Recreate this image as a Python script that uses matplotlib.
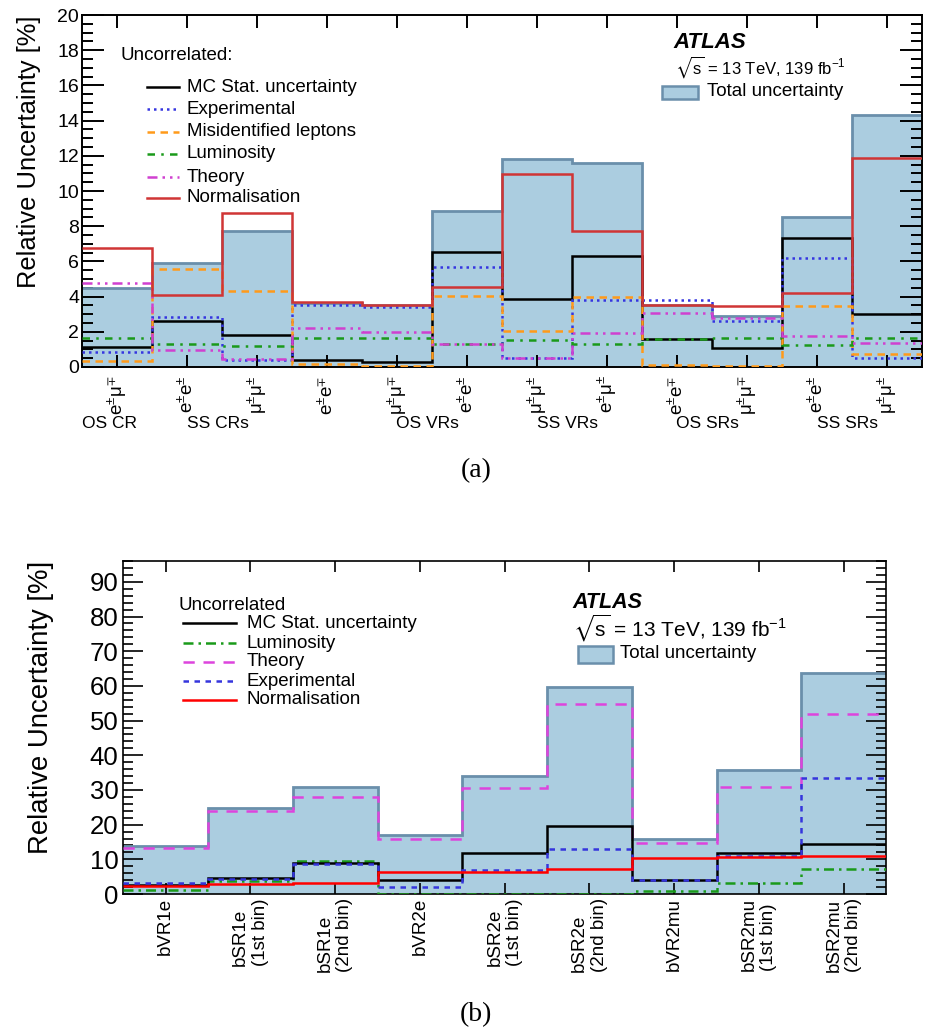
import numpy as np
import matplotlib
matplotlib.use("Agg")
import matplotlib.pyplot as plt
from matplotlib.lines import Line2D
from matplotlib.patches import Rectangle
from matplotlib.ticker import MultipleLocator

plt.rcParams['font.family'] = ['Liberation Sans', 'DejaVu Sans']
plt.rcParams['mathtext.fontset'] = 'custom'
plt.rcParams['mathtext.rm'] = 'Liberation Sans'
plt.rcParams['mathtext.it'] = 'Liberation Sans:italic'
plt.rcParams['mathtext.bf'] = 'Liberation Sans:bold'
plt.rcParams['mathtext.fallback'] = 'stixsans'

# ---------------- data: panel (a) ----------------
a_bins = [r'$\mathregular{e^{\pm}\mu^{\mp}}$', r'$\mathregular{e^{\pm}e^{\pm}}$',
          r'$\mathregular{\mu^{\pm}\mu^{\pm}}$', r'$\mathregular{e^{\pm}e^{\mp}}$',
          r'$\mathregular{\mu^{\pm}\mu^{\mp}}$', r'$\mathregular{e^{\pm}e^{\pm}}$',
          r'$\mathregular{\mu^{\pm}\mu^{\pm}}$', r'$\mathregular{e^{\pm}\mu^{\pm}}$',
          r'$\mathregular{e^{\pm}e^{\mp}}$', r'$\mathregular{\mu^{\pm}\mu^{\mp}}$',
          r'$\mathregular{e^{\pm}e^{\pm}}$', r'$\mathregular{\mu^{\pm}\mu^{\pm}}$']
a_groups = ['OS CR', 'SS CRs', 'OS VRs', 'SS VRs', 'OS SRs', 'SS SRs']
a_total = [4.5, 5.9, 7.7, 3.65, 3.5, 8.85, 11.8, 11.6, 3.5, 2.9, 8.5, 14.3]
a_mcstat = [1.14, 2.62, 1.84, 0.38, 0.28, 6.55, 3.85, 6.32, 1.57, 1.1, 7.34, 3.0]
a_exp = [0.85, 2.85, 0.38, 3.51, 3.42, 5.69, 0.53, 3.8, 3.8, 2.6, 6.22, 0.53]
a_misid = [0.32, 5.56, 4.31, 0.19, 0.06, 4.06, 2.03, 3.98, 0.11, 0.06, 3.45, 0.72]
a_lumi = [1.63, 1.33, 1.2, 1.65, 1.67, 1.29, 1.52, 1.33, 1.61, 1.65, 1.27, 1.65]
a_theory = [4.76, 0.95, 0.47, 2.22, 2.01, 1.29, 0.53, 1.95, 3.04, 2.81, 1.76, 1.37]
a_norm = [6.74, 4.08, 8.73, 3.68, 3.55, 4.52, 10.95, 7.72, 3.51, 3.47, 4.21, 11.9]

# ---------------- data: panel (b) ----------------
b_bins = ['bVR1e', 'bSR1e\n(1st bin)', 'bSR1e\n(2nd bin)', 'bVR2e', 'bSR2e\n(1st bin)',
          'bSR2e\n(2nd bin)', 'bVR2mu', 'bSR2mu\n(1st bin)', 'bSR2mu\n(2nd bin)']
b_total = [13.9, 24.9, 30.8, 17.1, 34.0, 59.7, 15.85, 35.8, 63.7]
b_theory = [13.4, 23.9, 27.9, 15.85, 30.7, 54.7, 14.6, 30.8, 51.9]
b_mcstat = [2.5, 4.7, 8.8, 4.0, 11.8, 19.6, 4.1, 11.7, 14.5]
b_exp = [3.3, 4.4, 8.7, 2.1, 7.0, 12.9, 4.1, 11.0, 33.3]
b_lumi = [1.15, 3.7, 9.5, 0.1, 0.1, 0.1, 0.9, 3.3, 7.1]
b_norm = [2.4, 2.8, 3.3, 6.4, 6.2, 7.2, 10.3, 10.8, 11.0]

FILL = '#abcde0'
EDGE = '#6a8fab'

W, H = 928, 1033
fig = plt.figure(figsize=(W / 100, H / 100), dpi=100)


def px(x, y):
    return x / W, 1 - y / H


def axes_px(l, t, r, b):
    return [l / W, 1 - b / H, (r - l) / W, (b - t) / H]


def style_axes(ax, fs, ymaj_len, ymin_len, xlen, lw):
    for s in ax.spines.values():
        s.set_linewidth(lw)
    ax.tick_params(axis='y', which='major', direction='in', length=ymaj_len, width=lw,
                   left=True, right=True, labelsize=fs)
    ax.tick_params(axis='y', which='minor', direction='in', length=ymin_len, width=lw,
                   left=True, right=True)
    ax.tick_params(axis='x', which='major', direction='in', length=xlen, width=lw,
                   top=True, bottom=True)
    ax.tick_params(axis='x', which='minor', bottom=False, top=False)


def legend_entry(x0, x1, xt, y, label, fs, **kw):
    X0, Y = px(x0, y)
    X1, _ = px(x1, y)
    fig.add_artist(Line2D([X0, X1], [Y, Y], transform=fig.transFigure, **kw))
    fig.text(px(xt, y)[0], Y, label, fontsize=fs, ha='left', va='center')


SQRTS = r'$\sqrt{\mathregular{s}}$ = 13 TeV, 139 fb$^{\mathregular{-1}}$'

# ================= panel (a) =================
ax1 = fig.add_axes(axes_px(82, 15, 922, 367))
n1 = len(a_total)
e1 = np.arange(n1 + 1)
ax1.stairs(a_total, e1, fill=True, color=FILL, zorder=1)
ax1.stairs(a_total, e1, baseline=None, color=EDGE, lw=2.0, zorder=2)
lw = 1.8
sa = [
    (a_mcstat, 'MC Stat. uncertainty', dict(color='black', ls='-', lw=lw)),
    (a_exp, 'Experimental', dict(color='#3535e0', ls=(0, (1, 1.6)), lw=lw)),
    (a_misid, 'Misidentified leptons', dict(color='#ff9a1a', ls=(0, (3, 2.2)), lw=lw)),
    (a_lumi, 'Luminosity', dict(color='#1a9a1a', ls=(0, (3, 2.5, 1, 2.5)), lw=lw)),
    (a_theory, 'Theory', dict(color='#d040d0', ls=(0, (4, 2, 1, 2, 1, 2)), lw=lw)),
    (a_norm, 'Normalisation', dict(color='#d03535', ls='-', lw=lw)),
]
for vals, lab, kw in sa:
    ax1.stairs(vals, e1, baseline=None, zorder=3, **kw)

ax1.set_xlim(0, n1)
ax1.set_ylim(0, 20)
ax1.yaxis.set_major_locator(MultipleLocator(2))
ax1.yaxis.set_minor_locator(MultipleLocator(0.5))
ax1.set_xticks(np.arange(n1) + 0.5)
ax1.set_xticklabels(a_bins, rotation=90, fontsize=13.5, va='top')
style_axes(ax1, 14, 16, 8, 9, 1.4)
ax1.tick_params(axis='y', pad=2)
ax1.tick_params(axis='x', pad=6)
ax1.set_ylabel('Relative Uncertainty [%]', fontsize=18.4, loc='top')
ax1.yaxis.set_label_coords(-0.049, 1.0)

group_x = [0.39, 1.94, 4.93, 6.93, 8.93, 10.93]
for gx, g in zip(group_x, a_groups):
    ax1.text(gx, -0.16, g, transform=ax1.get_xaxis_transform(), ha='center', va='center',
             fontsize=12.5)

# legend (a)
fig.text(*px(121, 56), 'Uncorrelated:', fontsize=13.5, ha='left', va='center')
for (vals, lab, kw), yy in zip(sa, [87, 109, 132, 154, 177, 198]):
    legend_entry(147, 179, 187, yy, lab, 13.5, **kw)
fig.text(*px(673, 42), 'ATLAS', fontsize=16, fontweight='bold', fontstyle='italic',
         ha='left', va='center')
fig.text(*px(675, 67), SQRTS, fontsize=12, ha='left', va='center')
bx0, by1 = px(662, 99)
fig.add_artist(Rectangle((bx0, by1), 36 / W, 13 / H, transform=fig.transFigure,
                         facecolor=FILL, edgecolor=EDGE, lw=1.8))
fig.text(*px(707, 91), 'Total uncertainty', fontsize=13.5, ha='left', va='center')
fig.text(*px(476, 471), '(a)', fontsize=20, family='Liberation Serif', ha='center',
         va='center')

# ================= panel (b) =================
ax2 = fig.add_axes(axes_px(123.3, 561, 886, 894))
n2 = len(b_total)
e2 = np.arange(n2 + 1)
ax2.stairs(b_total, e2, fill=True, color=FILL, zorder=1)
ax2.stairs(b_total, e2, baseline=None, color=EDGE, lw=2.0, zorder=2)
sb = [
    (b_mcstat, 'MC Stat. uncertainty', dict(color='black', ls='-', lw=lw)),
    (b_lumi, 'Luminosity', dict(color='#1a9a1a', ls=(0, (4, 2, 1, 2)), lw=lw)),
    (b_theory, 'Theory', dict(color='#dd44dd', ls=(0, (4.5, 3.5)), lw=lw)),
    (b_exp, 'Experimental', dict(color='#3535dd', ls=(0, (2.2, 2.2)), lw=lw)),
    (b_norm, 'Normalisation', dict(color='#ff0000', ls='-', lw=lw)),
]
for vals, lab, kw in [sb[1], sb[2], sb[0], sb[3], sb[4]]:
    ax2.stairs(vals, e2, baseline=None, zorder=3, **kw)
ax2.set_xlim(0, n2)
ax2.set_ylim(0, 96)
ax2.yaxis.set_major_locator(MultipleLocator(10))
ax2.yaxis.set_minor_locator(MultipleLocator(2))
ax2.set_xticks(np.arange(n2) + 0.5)
ax2.set_xticklabels(b_bins, rotation=90, fontsize=13.5, va='top', multialignment='left')
style_axes(ax2, 18.5, 14.5, 7.2, 8, 1.2)
ax2.tick_params(axis='y', pad=3.5)
ax2.tick_params(axis='x', pad=3)
ax2.set_ylabel('Relative Uncertainty [%]', fontsize=19.8, loc='top')
ax2.yaxis.set_label_coords(-0.091, 1.0)

fig.text(*px(178, 605), 'Uncorrelated', fontsize=13.5, ha='left', va='center')
for (vals, lab, kw), yy in zip(sb, [623, 643, 662, 681, 700]):
    legend_entry(183, 236, 247, yy, lab, 13.5, **kw)
fig.text(*px(572, 603), 'ATLAS', fontsize=15.5, fontweight='bold', fontstyle='italic',
         ha='left', va='center')
fig.text(*px(573, 628), SQRTS, fontsize=15, ha='left', va='center')
bx0, by1 = px(578, 663)
fig.add_artist(Rectangle((bx0, by1), 35 / W, 17 / H, transform=fig.transFigure,
                         facecolor=FILL, edgecolor=EDGE, lw=1.8))
fig.text(*px(620, 653), 'Total uncertainty', fontsize=13.5, ha='left', va='center')
fig.text(*px(476, 1015), '(b)', fontsize=20, family='Liberation Serif', ha='center',
         va='center')

fig.savefig('out.png', dpi=100)
